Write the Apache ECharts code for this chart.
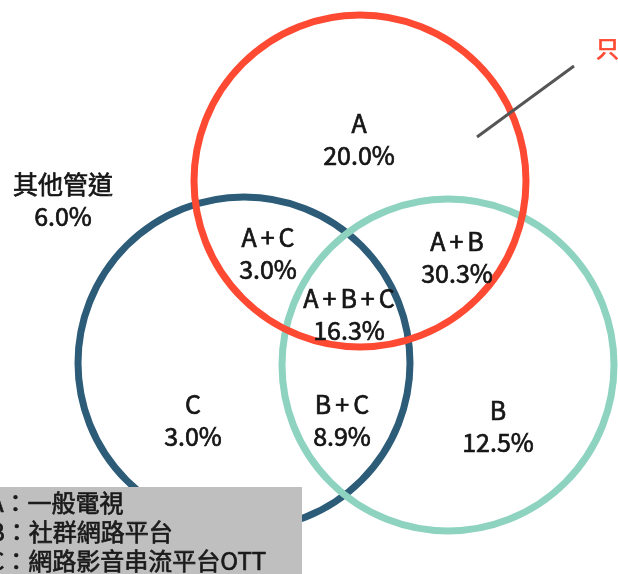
<!DOCTYPE html>
<html>
<head>
<meta charset="utf-8">
<script src="https://cdn.jsdelivr.net/npm/echarts@6/dist/echarts.min.js"></script>
<style>html,body{margin:0;padding:0;background:#fff}#chart{width:618px;height:574px}</style>
</head>
<body>
<div id="chart"></div>
<script>
// ---- data ----
const setNames = ['A', 'B', 'C'];
const setDescriptions = ['一般電視', '社群網路平台', '網路影音串流平台OTT'];
const regionLabels = ['A', 'A+C', 'A+B', 'A+B+C', 'C', 'B+C', 'B', '其他管道'];
const regionValues = [20.0, 3.0, 30.3, 16.3, 3.0, 8.9, 12.5, 6.0];
const calloutText = '只';

// ---- layout (plot units = canvas pixels) ----
const circleCenters = { A: [360, 181], B: [448, 365], C: [244, 363] };
const circleRadius = 166;
const circleColors = { A: '#FF4A33', B: '#8DD3C0', C: '#2D5C79' };
const regionPos = [[359, 139], [268, 253], [457, 257], [349, 314], [193, 420], [342, 420], [498, 426], [63, 200]];
const calloutLine = [[477, 137], [574, 66]];

const chart = echarts.init(document.getElementById('chart'), null, { renderer: 'canvas' });
const FONT = '"Noto Sans CJK TC", "Noto Sans", sans-serif';
const TXT = '#151515';
const SW = 0.7;

const circleOrder = ['C', 'B', 'A'];
const circleData = circleOrder.map(k => [circleCenters[k][0], circleCenters[k][1], circleRadius, k]);

const labelData = regionLabels.map((n, i) => [regionPos[i][0], regionPos[i][1], n, regionValues[i]]);

const labelRich = {
  t: { fontFamily: FONT, fontSize: 25, lineHeight: 32, fill: TXT, stroke: TXT, lineWidth: SW },
  p: { fontFamily: FONT, fontSize: 25, lineHeight: 32, fill: TXT, stroke: TXT, lineWidth: SW, padding: [0, 4] }
};

const option = {
  animation: false,
  grid: { left: 0, right: 0, top: 0, bottom: 0 },
  xAxis: { type: 'value', min: 0, max: 618, show: false },
  yAxis: { type: 'value', min: 0, max: 574, inverse: true, show: false },
  series: [
    {
      type: 'custom',
      clip: false,
      z: 2,
      data: circleData,
      renderItem: function (params, api) {
        const c = api.coord([api.value(0), api.value(1)]);
        const r = api.size([api.value(2), 0])[0];
        const key = circleOrder[params.dataIndex];
        return {
          type: 'circle',
          shape: { cx: c[0], cy: c[1], r: r },
          style: { fill: 'none', stroke: circleColors[key], lineWidth: 7 }
        };
      }
    },
    {
      type: 'custom',
      clip: false,
      z: 3,
      data: [[calloutLine[0][0], calloutLine[0][1], calloutLine[1][0], calloutLine[1][1]]],
      renderItem: function (params, api) {
        const p1 = api.coord([api.value(0), api.value(1)]);
        const p2 = api.coord([api.value(2), api.value(3)]);
        return {
          type: 'group',
          children: [
            { type: 'line', shape: { x1: p1[0], y1: p1[1], x2: p2[0], y2: p2[1] }, style: { stroke: '#555555', lineWidth: 3 } },
            { type: 'text', style: { x: p2[0] + 22, y: p2[1] - 18, text: calloutText, fill: '#FF4A33', stroke: '#FF4A33', lineWidth: SW, font: '23px ' + FONT, textAlign: 'left', textVerticalAlign: 'middle' } }
          ]
        };
      }
    },
    {
      type: 'custom',
      clip: false,
      z: 4,
      data: labelData,
      renderItem: function (params, api) {
        const p = api.coord([api.value(0), api.value(1)]);
        const name = regionLabels[params.dataIndex];
        const v = regionValues[params.dataIndex];
        const nameRich = name.split('+').map(s => '{t|' + s + '}').join('{p|+}');
        return {
          type: 'text',
          style: {
            x: p[0], y: p[1],
            text: nameRich + '\n{t|' + v.toFixed(1) + '%}',
            rich: labelRich,
            fill: TXT,
            font: '25px ' + FONT,
            lineHeight: 32,
            textAlign: 'center',
            textVerticalAlign: 'middle'
          }
        };
      }
    }
  ],
  graphic: [
    { type: 'rect', x: 0, y: 487, z: 10, shape: { x: 0, y: 0, width: 302, height: 90 }, style: { fill: '#BFBFBF' } },
    {
      type: 'text', x: -11, y: 488, z: 11,
      style: {
        text: setNames.map((s, i) => s + '：' + setDescriptions[i]).join('\n'),
        fill: '#1a1a1a',
        stroke: '#1a1a1a',
        lineWidth: SW,
        font: '24px ' + FONT,
        lineHeight: 29
      }
    }
  ]
};
chart.setOption(option);
</script>
</body>
</html>
